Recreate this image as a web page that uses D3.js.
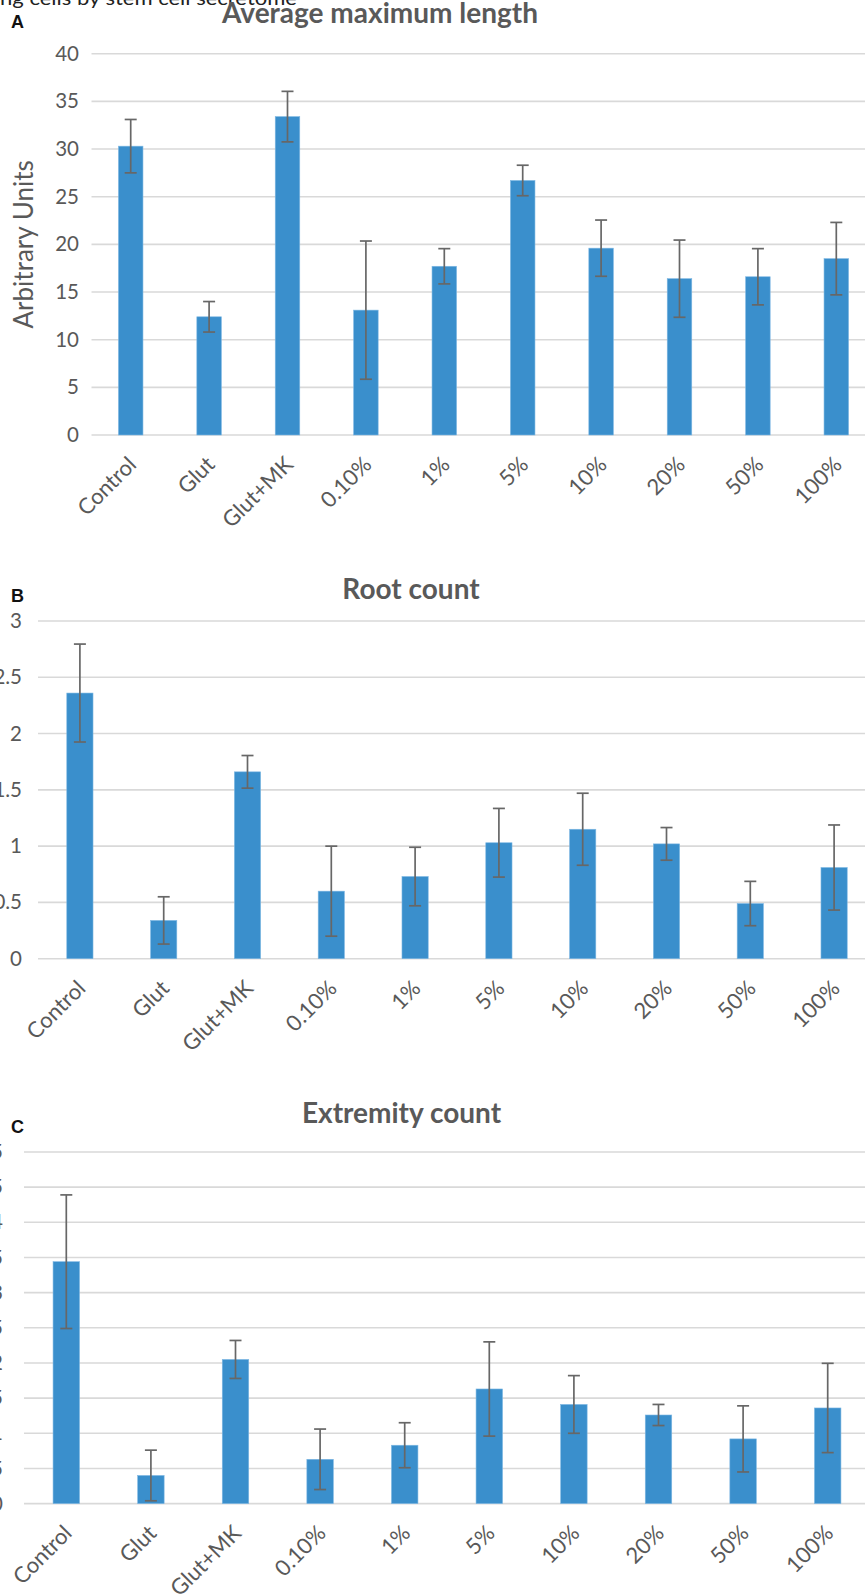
<!DOCTYPE html>
<html lang="en">
<head>
    <meta charset="UTF-8">
    <title>Stem cell secretome bar charts</title>
    <script src="https://d3js.org/d3.v7.min.js"></script>
    <style>
        body { margin: 0; background: #fff; }
        svg { display: block; }
    </style>
</head>
<body>
    <div id="chart"></div>

    <script>
        // Data
        const categories = ["Control", "Glut", "Glut+MK", "0.10%", "1%", "5%", "10%", "20%", "50%", "100%"];

        const lengthMean = [30.3, 12.4, 33.4, 13.1, 17.7, 26.7, 19.6, 16.4, 16.6, 18.5];
        const lengthErr  = [2.8, 1.6, 2.65, 7.25, 1.85, 1.6, 2.95, 4.05, 2.95, 3.8];

        const rootMean = [2.36, 0.34, 1.66, 0.60, 0.73, 1.03, 1.15, 1.02, 0.49, 0.81];
        const rootErr  = [0.435, 0.21, 0.145, 0.40, 0.26, 0.305, 0.32, 0.145, 0.197, 0.378];

        const extremityMean = [3.44, 0.40, 2.05, 0.63, 0.83, 1.63, 1.41, 1.26, 0.92, 1.36];
        const extremityErr  = [0.95, 0.36, 0.27, 0.43, 0.32, 0.67, 0.41, 0.15, 0.47, 0.635];

        const lengthTicks = [0, 5, 10, 15, 20, 25, 30, 35, 40];
        const rootTicks = [0, 0.5, 1, 1.5, 2, 2.5, 3];
        const extremityTicks = [0, 0.5, 1, 1.5, 2, 2.5, 3, 3.5, 4, 4.5, 5];

        const width = 865;
        const height = 1595;
        const barColor = "#3a8fcc";
        const gridColor = "#d9d9d9";
        const textColor = "#595959";
        const errColor = "#676767";
        const font = "Lato, 'Open Sans', sans-serif";

        const svg = d3.select("#chart")
            .append("svg")
            .attr("width", width)
            .attr("height", height);

        // cut-off caption line at the very top
        svg.append("text")
            .attr("x", 0)
            .attr("y", 5)
            .attr("font-family", font)
            .attr("font-size", 20)
            .attr("fill", "#222")
            .attr("textLength", 297)
            .attr("lengthAdjust", "spacingAndGlyphs")
            .text("ng cells by stem cell secretome");

        function drawPanel(p) {
            const g = svg.append("g");

            const x = d3.scaleBand()
                .domain(categories)
                .range([p.left, p.right])
                .paddingInner(0.687)
                .paddingOuter(0.3435);

            const y = d3.scaleLinear()
                .domain([0, p.max])
                .range([p.bottom, p.top]);

            // gridlines
            g.selectAll(".grid")
                .data(p.ticks)
                .enter()
                .append("line")
                .attr("x1", p.left)
                .attr("x2", p.right)
                .attr("y1", d => y(d))
                .attr("y2", d => y(d))
                .attr("stroke", gridColor)
                .attr("stroke-width", 1.6);

            // y axis labels
            const yAxis = g.append("g")
                .attr("transform", `translate(${p.labelRight},0)`)
                .call(d3.axisLeft(y).tickValues(p.ticks).tickSize(0).tickPadding(0).tickFormat(d3.format("~g")));
            yAxis.select(".domain").remove();
            yAxis.selectAll("text")
                .attr("font-family", font)
                .attr("font-size", 20.5)
                .attr("fill", textColor);

            // bars
            g.selectAll(".bar")
                .data(p.mean)
                .enter()
                .append("rect")
                .attr("x", (d, i) => x(categories[i]))
                .attr("y", d => y(d))
                .attr("width", x.bandwidth())
                .attr("height", d => y(0) - y(d))
                .attr("fill", barColor)
                .attr("stroke", "#7fb8e3")
                .attr("stroke-width", 0.6);

            // error bars
            const cx = i => x(categories[i]) + x.bandwidth() / 2;
            const err = g.selectAll(".err")
                .data(p.mean)
                .enter()
                .append("g")
                .attr("stroke", errColor)
                .attr("stroke-width", 1.7);
            err.append("line")
                .attr("x1", (d, i) => cx(i))
                .attr("x2", (d, i) => cx(i))
                .attr("y1", (d, i) => y(d - p.err[i]))
                .attr("y2", (d, i) => y(d + p.err[i]));
            err.append("line")
                .attr("x1", (d, i) => cx(i) - 6)
                .attr("x2", (d, i) => cx(i) + 6)
                .attr("y1", (d, i) => y(d + p.err[i]))
                .attr("y2", (d, i) => y(d + p.err[i]));
            err.append("line")
                .attr("x1", (d, i) => cx(i) - 6)
                .attr("x2", (d, i) => cx(i) + 6)
                .attr("y1", (d, i) => y(d - p.err[i]))
                .attr("y2", (d, i) => y(d - p.err[i]));

            // category labels, rotated
            g.selectAll(".cat")
                .data(categories)
                .enter()
                .append("text")
                .attr("transform", d => `translate(${x(d) + x.bandwidth() / 2 + 7},${p.bottom + 31}) rotate(-45)`)
                .attr("text-anchor", "end")
                .attr("font-family", font)
                .attr("font-size", 22)
                .attr("fill", textColor)
                .text(d => d);

            // title
            g.append("text")
                .attr("x", p.titleX)
                .attr("y", p.titleY)
                .attr("text-anchor", "middle")
                .attr("font-family", font)
                .attr("font-weight", "bold")
                .attr("font-size", 28)
                .attr("fill", textColor)
                .text(p.title);

            // panel letter
            g.append("text")
                .attr("x", 11)
                .attr("y", p.letterY)
                .attr("font-family", "'Liberation Sans', Arial, sans-serif")
                .attr("font-weight", "bold")
                .attr("font-size", 18)
                .attr("fill", "#111")
                .text(p.letter);

            if (p.yTitle) {
                g.append("text")
                    .attr("transform", `translate(33,${(p.top + p.bottom) / 2}) rotate(-90)`)
                    .attr("text-anchor", "middle")
                    .attr("font-family", font)
                    .attr("font-size", 26)
                    .attr("fill", textColor)
                    .text(p.yTitle);
            }
        }

        drawPanel({
            letter: "A", letterY: 28,
            title: "Average maximum length", titleX: 380, titleY: 23,
            yTitle: "Arbitrary Units",
            mean: lengthMean, err: lengthErr, ticks: lengthTicks, max: 40,
            left: 91.5, right: 875.5, top: 53.7, bottom: 435, labelRight: 79
        });

        drawPanel({
            letter: "B", letterY: 602,
            title: "Root count", titleX: 411, titleY: 599,
            mean: rootMean, err: rootErr, ticks: rootTicks, max: 3,
            left: 38, right: 876, top: 621, bottom: 958.7, labelRight: 22
        });

        drawPanel({
            letter: "C", letterY: 1133,
            title: "Extremity count", titleX: 401.5, titleY: 1123,
            mean: extremityMean, err: extremityErr, ticks: extremityTicks, max: 5,
            left: 24, right: 870, top: 1152, bottom: 1503.6, labelRight: 3
        });
    </script>
</body>
</html>
